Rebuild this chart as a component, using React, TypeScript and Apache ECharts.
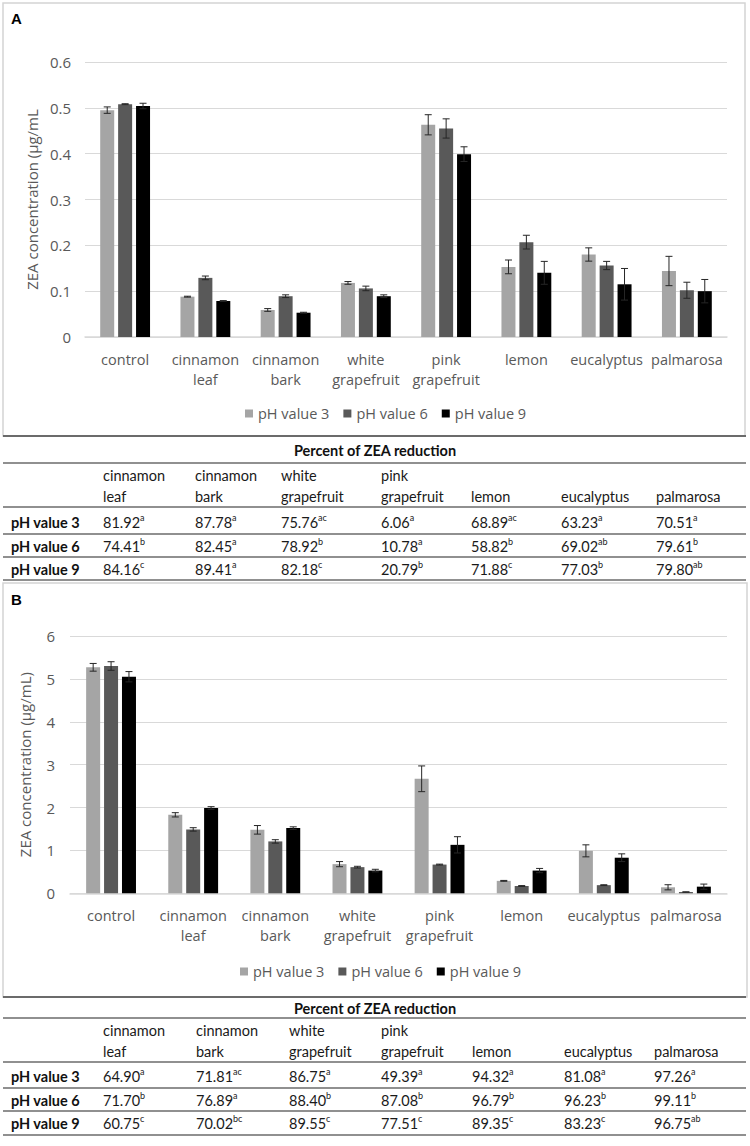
import React, { useEffect, useRef } from "react";
import * as echarts from "echarts";

const categories = [
  "control",
  "cinnamon\nleaf",
  "cinnamon\nbark",
  "white\ngrapefruit",
  "pink\ngrapefruit",
  "lemon",
  "eucalyptus",
  "palmarosa",
];
const seriesNames = ["pH value 3", "pH value 6", "pH value 9"];

// Panel A (µg/mL)
const aPh3 = [0.495, 0.088, 0.059, 0.118, 0.463, 0.153, 0.18, 0.144];
const aPh3Err = [0.007, 0.001, 0.003, 0.003, 0.022, 0.015, 0.0145, 0.032];
const aPh6 = [0.508, 0.129, 0.089, 0.106, 0.455, 0.207, 0.156, 0.102];
const aPh6Err = [0.001, 0.004, 0.003, 0.005, 0.021, 0.015, 0.009, 0.0175];
const aPh9 = [0.504, 0.0785, 0.053, 0.089, 0.399, 0.14, 0.115, 0.1];
const aPh9Err = [0.006, 0.001, 0.001, 0.003, 0.016, 0.025, 0.0345, 0.0255];

// Panel B (µg/mL)
const bPh3 = [5.27, 1.83, 1.48, 0.68, 2.67, 0.29, 0.99, 0.14];
const bPh3Err = [0.09, 0.05, 0.1, 0.06, 0.3, 0.01, 0.14, 0.06];
const bPh6 = [5.3, 1.49, 1.21, 0.61, 0.67, 0.17, 0.19, 0.03];
const bPh6Err = [0.1, 0.04, 0.04, 0.02, 0.01, 0.01, 0.01, 0.005];
const bPh9 = [5.05, 1.99, 1.52, 0.53, 1.13, 0.53, 0.83, 0.155];
const bPh9Err = [0.12, 0.03, 0.03, 0.03, 0.19, 0.05, 0.09, 0.06];

const yTicksA = [0, 0.1, 0.2, 0.3, 0.4, 0.5, 0.6];
const yTicksB = [0, 1, 2, 3, 4, 5, 6];

// Tables
const tableTitle = "Percent of ZEA reduction";
const tableHeaders = [
  "cinnamon\nleaf",
  "cinnamon\nbark",
  "white\ngrapefruit",
  "pink\ngrapefruit",
  "lemon",
  "eucalyptus",
  "palmarosa",
];
const tableRowLabels = ["pH value 3", "pH value 6", "pH value 9"];
const tableAValues = [
  ["81.92", "87.78", "75.76", "6.06", "68.89", "63.23", "70.51"],
  ["74.41", "82.45", "78.92", "10.78", "58.82", "69.02", "79.61"],
  ["84.16", "89.41", "82.18", "20.79", "71.88", "77.03", "79.80"],
];
const tableASup = [
  ["a", "a", "ac", "a", "ac", "a", "a"],
  ["b", "a", "b", "a", "b", "ab", "b"],
  ["c", "a", "c", "b", "c", "b", "ab"],
];
const tableBValues = [
  ["64.90", "71.81", "86.75", "49.39", "94.32", "81.08", "97.26"],
  ["71.70", "76.89", "88.40", "87.08", "96.79", "96.23", "99.11"],
  ["60.75", "70.02", "89.55", "77.51", "89.35", "83.23", "96.75"],
];
const tableBSup = [
  ["a", "ac", "a", "a", "a", "a", "a"],
  ["b", "a", "b", "b", "b", "b", "b"],
  ["c", "bc", "c", "c", "c", "c", "ab"],
];

const colors = ["#a5a5a5", "#595959", "#000000"];
const chartFont = "Open Sans";
const tableFont = "Lato";
const textGray = "#595959";

function errorSeries(values: number[], errs: number[], idx: number, axis: number) {
  const offset = (idx - 1) * 17.9;
  return {
    type: "custom",
    name: seriesNames[idx],
    xAxisIndex: axis,
    yAxisIndex: axis,
    z: 5,
    silent: true,
    data: values.map((v, i) => [i, v, errs[i]]),
    renderItem: (params: any, api: any) => {
      const i = api.value(0);
      const v = api.value(1);
      const e = api.value(2);
      const top = api.coord([i, v + e]);
      const bot = api.coord([i, v - e]);
      const x = top[0] + offset;
      const style = { stroke: "#262626", lineWidth: 1 };
      return {
        type: "group",
        children: [
          { type: "line", shape: { x1: x, y1: top[1], x2: x, y2: bot[1] }, style },
          { type: "line", shape: { x1: x - 3.5, y1: top[1], x2: x + 3.5, y2: top[1] }, style },
          { type: "line", shape: { x1: x - 3.5, y1: bot[1], x2: x + 3.5, y2: bot[1] }, style },
        ],
      };
    },
  };
}

function barSeries(values: number[], idx: number, axis: number) {
  return {
    type: "bar",
    name: seriesNames[idx],
    xAxisIndex: axis,
    yAxisIndex: axis,
    data: values,
    barWidth: 14,
    barGap: "28%",
    itemStyle: { color: colors[idx] },
  };
}

interface TableLayout {
  top: number;
  titleY: number;
  line1: number;
  header1: number;
  header2: number;
  line2: number;
  rows: number[];
  lines: number[];
  cols: number[];
}

function buildTable(values: string[][], sups: string[][], L: TableLayout) {
  const els: any[] = [];
  const lineStyle = { stroke: "#6b6b6b", lineWidth: 1.5 };
  const hline = (y: number, w = 1.5) => ({
    type: "line",
    shape: { x1: 3, y1: y, x2: 746, y2: y },
    style: { ...lineStyle, lineWidth: w },
  });
  els.push(hline(L.top, 2));
  els.push(hline(L.line1));
  els.push(hline(L.line2));
  L.lines.forEach((y) => els.push(hline(y)));
  els.push({
    type: "text",
    x: 375,
    y: L.titleY,
    style: {
      text: tableTitle,
      fontFamily: tableFont,
      fontSize: 14.5,
      fontWeight: "bold",
      fill: "#111",
      align: "center",
      verticalAlign: "middle",
    },
  });
  tableHeaders.forEach((h, c) => {
    const parts = h.split("\n");
    const ys = parts.length === 2 ? [L.header1, L.header2] : [L.header2];
    parts.forEach((p, k) => {
      els.push({
        type: "text",
        x: L.cols[c],
        y: ys[k],
        style: {
          text: p,
          fontFamily: tableFont,
          fontSize: 14.5,
          fill: "#1a1a1a",
          align: "left",
          verticalAlign: "middle",
        },
      });
    });
  });
  tableRowLabels.forEach((r, ri) => {
    els.push({
      type: "text",
      x: 11,
      y: L.rows[ri],
      style: {
        text: r,
        fontFamily: tableFont,
        fontSize: 14.5,
        fontWeight: "bold",
        fill: "#111",
        align: "left",
        verticalAlign: "middle",
      },
    });
    values[ri].forEach((v, c) => {
      els.push({
        type: "text",
        x: L.cols[c],
        y: L.rows[ri],
        style: {
          text: `{n|${v}}{s|${sups[ri][c]}}`,
          fill: "#1a1a1a",
          align: "left",
          verticalAlign: "middle",
          rich: {
            n: { fontFamily: tableFont, fontSize: 14.5, lineHeight: 18 },
            s: { fontFamily: tableFont, fontSize: 9, lineHeight: 18, verticalAlign: "top" },
          },
        },
      });
    });
  });
  return els;
}

const layoutA: TableLayout = {
  top: 436,
  titleY: 450,
  line1: 463,
  header1: 475,
  header2: 496,
  line2: 507,
  rows: [522, 546, 569],
  lines: [534, 557, 580],
  cols: [103, 195, 281, 381, 471, 561, 656],
};
const layoutB: TableLayout = {
  top: 997,
  titleY: 1008,
  line1: 1018,
  header1: 1030,
  header2: 1051,
  line2: 1062,
  rows: [1076, 1100, 1123],
  lines: [1088, 1111, 1135],
  cols: [103, 196, 289, 381, 472, 564, 654],
};

export default function App() {
  const ref = useRef<HTMLDivElement>(null);
  useEffect(() => {
    document.body.style.margin = "0";
    if (!ref.current) return;
    const chart = echarts.init(ref.current, null, { renderer: "svg" });

    const xAxisBase = (grid: number) => ({
      type: "category",
      gridIndex: grid,
      data: categories,
      axisLine: { lineStyle: { color: "#d9d9d9", width: 1.5 } },
      axisTick: { show: false },
      axisLabel: {
        color: textGray,
        fontFamily: chartFont,
        fontSize: 14.5,
        lineHeight: 20,
        margin: 12,
        interval: 0,
      },
    });
    const yAxisBase = (grid: number, ticks: number[], name: string, gap: number, margin: number) => ({
      type: "value",
      gridIndex: grid,
      min: ticks[0],
      max: ticks[ticks.length - 1],
      interval: ticks[1] - ticks[0],
      axisLine: { show: false },
      axisTick: { show: false },
      splitLine: { lineStyle: { color: "#d9d9d9", width: 1.2 } },
      axisLabel: {
        color: textGray,
        fontFamily: chartFont,
        fontSize: 15,
        margin,
        formatter: (v: number) => String(Math.round(v * 10) / 10),
      },
      name,
      nameLocation: "middle",
      nameGap: gap,
      nameRotate: 90,
      nameTextStyle: { color: textGray, fontFamily: chartFont, fontSize: 15 },
    });
    const legendBase = (left: number, top: number) => ({
      left,
      top,
      data: seriesNames,
      icon: "rect",
      itemWidth: 8,
      itemHeight: 8,
      itemGap: 14,
      textStyle: { color: textGray, fontFamily: chartFont, fontSize: 14.5 },
      selectedMode: false,
    });

    const option: any = {
      animation: false,
      backgroundColor: "#ffffff",
      grid: [
        { left: 85, top: 62, width: 642, height: 275 },
        { left: 70, top: 636, width: 657, height: 257.3 },
      ],
      xAxis: [xAxisBase(0), xAxisBase(1)],
      yAxis: [
        yAxisBase(0, yTicksA, "ZEA concentration (µg/mL", 44, 14),
        yAxisBase(1, yTicksB, "ZEA concentration (µg/mL)", 38, 15),
      ],
      legend: [legendBase(240, 401), legendBase(235, 959)],
      series: [
        barSeries(aPh3, 0, 0),
        barSeries(aPh6, 1, 0),
        barSeries(aPh9, 2, 0),
        errorSeries(aPh3, aPh3Err, 0, 0),
        errorSeries(aPh6, aPh6Err, 1, 0),
        errorSeries(aPh9, aPh9Err, 2, 0),
        barSeries(bPh3, 0, 1),
        barSeries(bPh6, 1, 1),
        barSeries(bPh9, 2, 1),
        errorSeries(bPh3, bPh3Err, 0, 1),
        errorSeries(bPh6, bPh6Err, 1, 1),
        errorSeries(bPh9, bPh9Err, 2, 1),
      ],
      graphic: [
        {
          type: "rect",
          shape: { x: 3, y: 3, width: 742, height: 433 },
          style: { fill: "none", stroke: "#d4d4d4", lineWidth: 1.5 },
          silent: true,
        },
        {
          type: "rect",
          shape: { x: 3, y: 583, width: 744, height: 414 },
          style: { fill: "none", stroke: "#d4d4d4", lineWidth: 1.5 },
          silent: true,
        },
        {
          type: "text",
          x: 11,
          y: 18,
          style: { text: "A", fontFamily: "Liberation Sans", fontSize: 15, fontWeight: "bold", fill: "#000", verticalAlign: "middle" },
        },
        {
          type: "text",
          x: 11,
          y: 599,
          style: { text: "B", fontFamily: "Liberation Sans", fontSize: 15, fontWeight: "bold", fill: "#000", verticalAlign: "middle" },
        },
        ...buildTable(tableAValues, tableASup, layoutA),
        ...buildTable(tableBValues, tableBSup, layoutB),
      ],
    };
    chart.setOption(option);
    return () => chart.dispose();
  }, []);
  return (
    <div
      ref={ref}
      style={{ position: "absolute", left: 0, top: 0, width: 750, height: 1146 }}
    />
  );
}
